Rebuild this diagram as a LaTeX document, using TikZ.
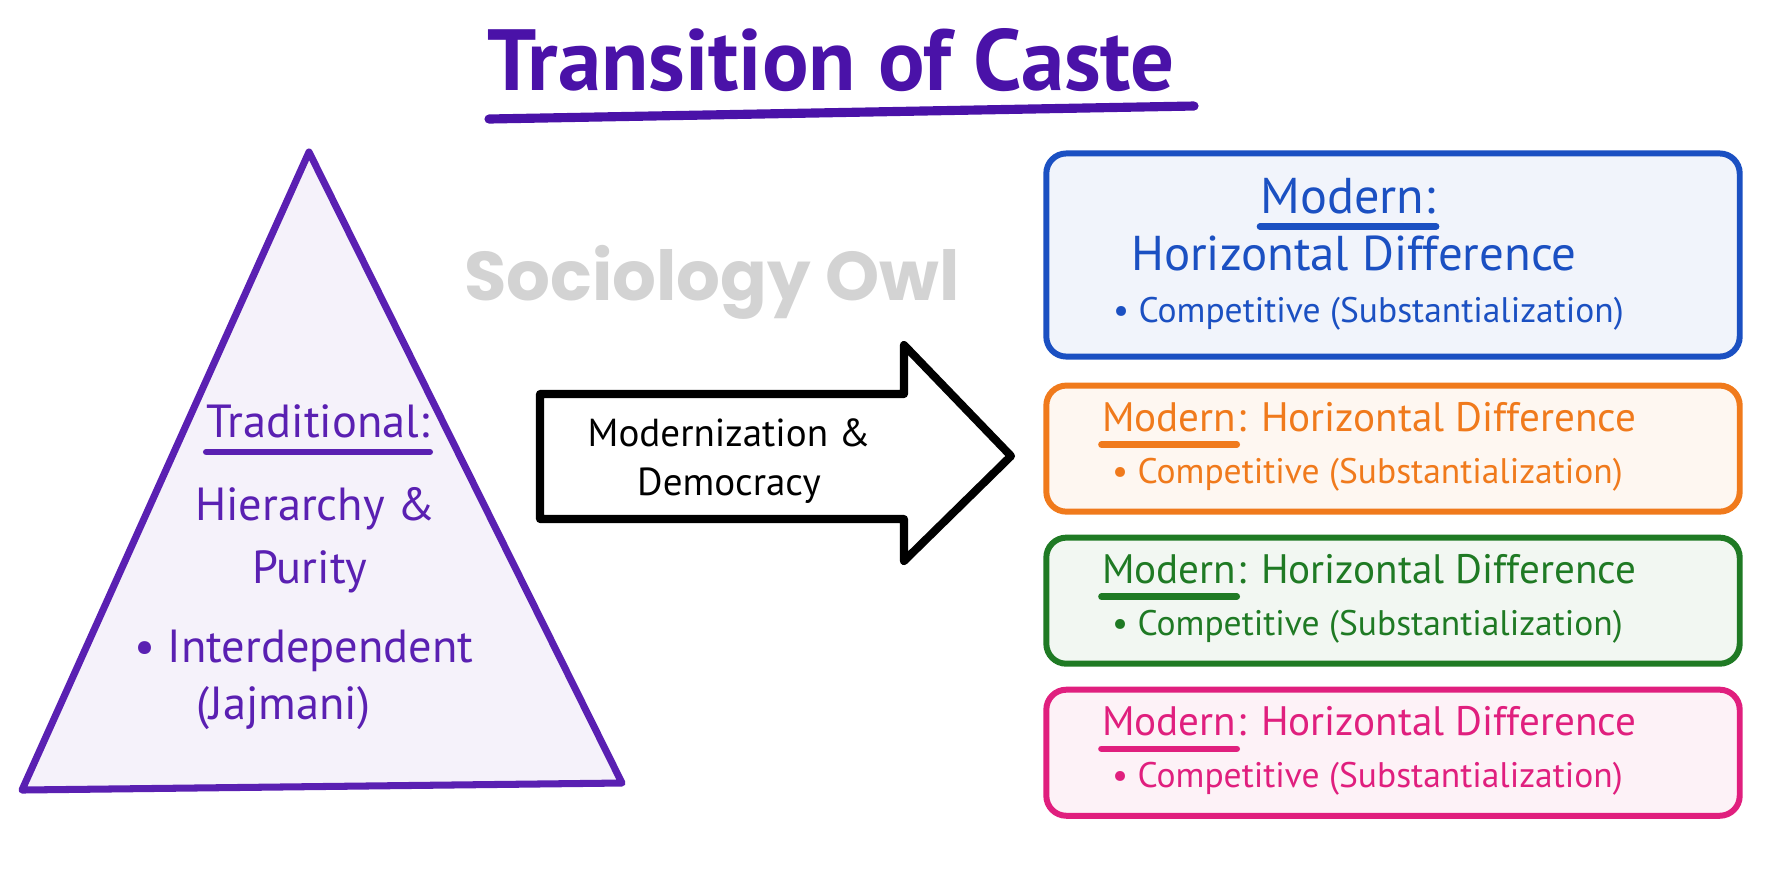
\documentclass[tikz,border=0pt]{standalone}
\usepackage{fontspec}
\setmainfont{PT Sans}
\newfontfamily\wmfont{Poppins}
\usepackage{xcolor}
\usetikzlibrary{positioning}

\definecolor{titlepurple}{HTML}{4A12A8}
\definecolor{tripurple}{HTML}{5A20B2}
\definecolor{modblue}{HTML}{1B50C2}
\definecolor{modorange}{HTML}{F07A1C}
\definecolor{modgreen}{HTML}{1F7A24}
\definecolor{modpink}{HTML}{E01F7E}
\definecolor{wmgray}{HTML}{D3D3D3}

\begin{document}
\begin{tikzpicture}[x=0.01cm, y=-0.01cm,
  node distance=2mm,
  card/.style={draw=#1, fill=#1!6, line width=1.7pt, rounded corners=2mm,
               minimum width=6.93cm, minimum height=1.26cm, inner sep=0pt},
  ul/.style={draw=#1, line width=1.8pt, line cap=round},
  head/.style={inner sep=0pt, anchor=base west, text=#1, font=\fontsize{11.7}{14}\selectfont},
  bul/.style={inner sep=0pt, anchor=base west, text=#1, font=\fontsize{10.1}{12}\selectfont},
  tritxt/.style={inner sep=0pt, anchor=base, text=tripurple, font=\fontsize{13.2}{16}\selectfont}]
\useasboundingbox (0,0) rectangle (1774,887);

% title
\node[inner sep=0pt, anchor=base, text=titlepurple, font=\bfseries\fontsize{24.7}{28}\selectfont] (title) at (831,90) {Transition of Caste};
\draw[line width=2.6pt, line cap=round, titlepurple] ([shift={(-342,29)}]title.base) -- ([shift={(363,16)}]title.base);

% watermark
\node[inner sep=0pt, anchor=base, text=wmgray, font=\wmfont\bfseries\fontsize{19.6}{22}\selectfont] (wm) at (712,300) {Sociology Owl};

% traditional pyramid
\coordinate (apex) at (309,152);
\coordinate (tbr) at (622,783);
\coordinate (tbl) at (22,790);
\draw[draw=tripurple, fill=tripurple!6, line width=2pt, line join=round] (apex) -- (tbr) -- (tbl) -- cycle;
\node[tritxt] (trad) at (318,437) {Traditional:};
\draw[ul=tripurple] ([yshift=-1.5mm]trad.base west) -- ([yshift=-1.5mm]trad.base east);
\node[tritxt] (hier) at (315,520) {Hierarchy \&};
\node[tritxt] (pur) at (310,583) {Purity};
\node[tritxt] (inter) at (304,662) {\textbullet\ Interdependent};
\node[tritxt, anchor=base west] (jaj) at (196,719) {(Jajmani)};

% transition arrow
\draw[line width=2.3pt, line join=round, fill=white]
  (540,394) -- (904,394) -- (904,345) -- (1011,456) -- (904,561) -- (904,519) -- (540,519) -- cycle;
\node[align=center, font=\fontsize{11.1}{13.7}\selectfont] (flow) at (729,461) {Modernization \&\\Democracy};

% modern boxes
\node[card=modblue, minimum height=2.03cm] (modA) at (1393,255) {};
\node[card=modorange, below=2.3mm of modA] (modB) {};
\node[card=modgreen, below=of modB] (modC) {};
\node[card=modpink, below=of modC] (modD) {};

\node[inner sep=0pt, anchor=base, text=modblue, font=\fontsize{14.3}{16}\selectfont] (mA) at ([shift={(-45,63)}]modA.north) {Modern:};
\draw[ul=modblue] ([yshift=-1.3mm]mA.base west) -- ([yshift=-1.3mm]mA.base east);
\node[inner sep=0pt, anchor=base, text=modblue, font=\fontsize{13.9}{16}\selectfont] (hA) at ([shift={(-39,120)}]modA.north) {Horizontal Difference};
\node[bul=modblue] (cA) at ([shift={(69,172)}]modA.north west) {\textbullet\ Competitive (Substantialization)};

\node[head=modorange] (mB) at ([shift={(58,49)}]modB.north west) {Modern};
\node[head=modorange] (hB) at (mB.base east) {: Horizontal Difference};
\draw[ul=modorange] ([yshift=-1.3mm]mB.base west) -- ([yshift=-1.3mm]mB.base east);
\node[bul=modorange] (cB) at ([shift={(68,101)}]modB.north west) {\textbullet\ Competitive (Substantialization)};

\node[head=modgreen] (mC) at ([shift={(58,49)}]modC.north west) {Modern};
\node[head=modgreen] (hC) at (mC.base east) {: Horizontal Difference};
\draw[ul=modgreen] ([yshift=-1.3mm]mC.base west) -- ([yshift=-1.3mm]mC.base east);
\node[bul=modgreen] (cC) at ([shift={(68,101)}]modC.north west) {\textbullet\ Competitive (Substantialization)};

\node[head=modpink] (mD) at ([shift={(58,49)}]modD.north west) {Modern};
\node[head=modpink] (hD) at (mD.base east) {: Horizontal Difference};
\draw[ul=modpink] ([yshift=-1.3mm]mD.base west) -- ([yshift=-1.3mm]mD.base east);
\node[bul=modpink] (cD) at ([shift={(68,101)}]modD.north west) {\textbullet\ Competitive (Substantialization)};
\end{tikzpicture}
\end{document}
